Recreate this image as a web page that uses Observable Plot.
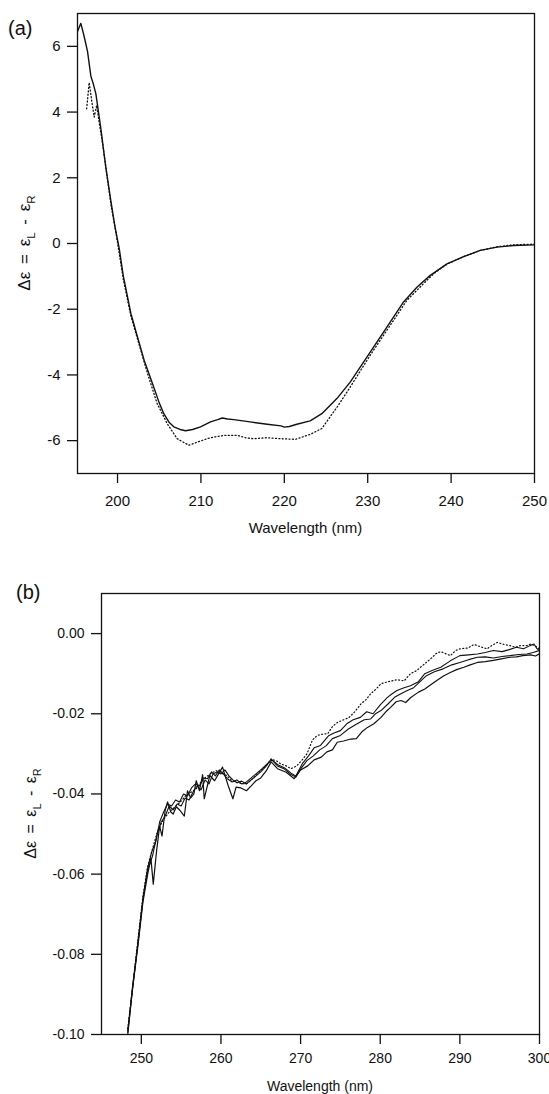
<!DOCTYPE html>
<html><head><meta charset="utf-8">
<script src="https://cdn.jsdelivr.net/npm/d3@7"></script>
<script src="https://cdn.jsdelivr.net/npm/@observablehq/plot@0.6"></script>
<style>
html,body{margin:0;padding:0;background:#fff}
svg{display:block}
</style>
</head><body><div id="chart"></div>
<script>
// ---------- Panel (a): far-UV CD, wavelength (nm) vs Δε ----------
const aSolid = [
[195.2,6.45],[195.6,6.70],[196.0,6.30],[196.4,5.85],[196.8,5.10],[197.1,4.85],[197.4,4.56],[198.0,3.50],[198.6,2.30],[199.2,1.30],[199.7,0.50],[200.2,-0.15],[200.7,-1.00],[201.6,-2.13],[202.4,-2.85],[203.2,-3.56],[204.2,-4.27],[205.0,-4.85],[205.55,-5.18],[206.2,-5.45],[206.75,-5.58],[207.5,-5.66],[208.15,-5.70],[209.0,-5.66],[209.95,-5.58],[211.15,-5.43],[212.0,-5.36],[212.55,-5.31],[213.2,-5.34],[213.95,-5.36],[215.9,-5.43],[217.95,-5.50],[219.6,-5.55],[220.0,-5.59],[220.6,-5.57],[221.5,-5.50],[223.1,-5.40],[224.5,-5.18],[226.3,-4.72],[227.9,-4.22],[229.9,-3.46],[231.9,-2.70],[234.3,-1.78],[235.9,-1.33],[237.5,-0.97],[239.5,-0.62],[241.5,-0.40],[243.5,-0.21],[245.5,-0.11],[247.5,-0.06],[250.0,-0.04]
];
const aDotted = [
[196.3,4.10],[196.6,4.90],[196.9,4.35],[197.2,3.85],[197.5,4.20],[197.8,3.68],[198.2,3.05],[198.7,2.15],[199.2,1.20],[199.8,0.35],[200.7,-1.10],[201.6,-2.20],[202.5,-3.00],[203.6,-3.96],[204.75,-4.87],[205.95,-5.48],[207.15,-5.94],[208.55,-6.14],[209.95,-6.01],[211.15,-5.91],[212.75,-5.84],[214.35,-5.84],[215.5,-5.92],[216.3,-5.94],[217.95,-5.91],[219.55,-5.94],[221.35,-5.96],[223.1,-5.81],[224.5,-5.63],[226.35,-4.97],[227.9,-4.37],[230.3,-3.40],[232.3,-2.64],[234.7,-1.73],[236.7,-1.22],[238.0,-0.90],[239.5,-0.63],[241.5,-0.40],[243.5,-0.21],[245.5,-0.10],[247.5,-0.04],[250.0,-0.02]
];
const aXTicks = [200, 210, 220, 230, 240, 250];
const aYTicks = [-6, -4, -2, 0, 2, 4, 6];

// ---------- Panel (b): near-UV CD ----------
const bSolidA = [
[248.3,-0.1000],[248.9,-0.0885],[249.6,-0.0775],[250.2,-0.0670],[250.8,-0.0600],[251.2,-0.0560],[251.5,-0.0625],[251.9,-0.0545],[252.3,-0.0480],[252.6,-0.0505],[253.0,-0.0440],[253.3,-0.0420],[253.7,-0.0445],[254.0,-0.0450],[254.4,-0.0432],[254.8,-0.0440],[255.4,-0.0455],[255.8,-0.0392],[256.2,-0.0410],[256.6,-0.0400],[256.9,-0.0367],[257.3,-0.0392],[257.7,-0.0352],[257.9,-0.0412],[258.6,-0.0354],[259.2,-0.0367],[259.7,-0.0350],[260.2,-0.0333],[260.6,-0.0360],[260.9,-0.0379],[261.5,-0.0412],[261.9,-0.0383],[262.5,-0.0385],[263.2,-0.0392],[263.8,-0.0380],[264.4,-0.0367],[265.0,-0.0360],[265.7,-0.0342],[266.3,-0.0320],[267.1,-0.0337],[268.2,-0.0346],[269.2,-0.0362],[270.0,-0.0340],[270.9,-0.0330],[271.7,-0.0315],[272.6,-0.0308],[273.3,-0.0295],[274.0,-0.0290],[274.6,-0.0271],[275.4,-0.0268],[276.3,-0.0263],[277.0,-0.0262],[277.7,-0.0245],[278.4,-0.0234],[279.2,-0.0225],[280.1,-0.0209],[280.7,-0.0195],[281.3,-0.0184],[282.0,-0.0170],[282.6,-0.0167],[283.2,-0.0172],[283.8,-0.0160],[284.8,-0.0146],[285.6,-0.0138],[286.3,-0.0128],[287.1,-0.0117],[288.0,-0.0105],[288.8,-0.0097],[289.6,-0.0090],[290.5,-0.0084],[291.3,-0.0078],[292.2,-0.0072],[293.2,-0.0070],[294.2,-0.0067],[295.2,-0.0063],[296.3,-0.0059],[297.1,-0.0058],[297.9,-0.0055],[298.9,-0.0053],[299.5,-0.0056],[300.0,-0.0050]
];
const bSolidB = [
[248.3,-0.0995],[248.9,-0.0880],[249.6,-0.0770],[250.2,-0.0665],[250.8,-0.0590],[251.4,-0.0555],[252.0,-0.0500],[252.5,-0.0470],[253.0,-0.0455],[253.5,-0.0430],[254.0,-0.0440],[254.5,-0.0425],[255.0,-0.0430],[255.5,-0.0410],[256.0,-0.0415],[256.5,-0.0395],[257.0,-0.0380],[257.5,-0.0390],[258.0,-0.0365],[258.5,-0.0375],[259.0,-0.0350],[259.5,-0.0345],[260.0,-0.0350],[260.5,-0.0340],[261.0,-0.0355],[261.5,-0.0365],[262.0,-0.0372],[262.6,-0.0368],[263.2,-0.0375],[263.8,-0.0365],[264.4,-0.0355],[265.0,-0.0345],[265.7,-0.0330],[266.3,-0.0313],[267.1,-0.0330],[267.9,-0.0337],[268.7,-0.0350],[269.4,-0.0358],[270.1,-0.0335],[270.8,-0.0317],[271.6,-0.0305],[272.4,-0.0290],[273.2,-0.0280],[274.0,-0.0262],[275.0,-0.0254],[276.0,-0.0238],[277.1,-0.0225],[278.0,-0.0215],[278.8,-0.0213],[279.4,-0.0200],[280.1,-0.0192],[281.0,-0.0175],[281.8,-0.0159],[282.6,-0.0150],[283.4,-0.0142],[284.2,-0.0135],[285.0,-0.0120],[285.8,-0.0105],[286.8,-0.0095],[287.9,-0.0088],[289.0,-0.0078],[290.0,-0.0072],[291.1,-0.0065],[292.2,-0.0059],[293.2,-0.0058],[294.2,-0.0061],[295.3,-0.0057],[296.3,-0.0055],[297.4,-0.0052],[298.4,-0.0051],[299.2,-0.0047],[300.0,-0.0042]
];
const bSolidC = [
[248.3,-0.0990],[249.0,-0.0870],[249.6,-0.0765],[250.2,-0.0660],[250.8,-0.0585],[251.3,-0.0545],[251.8,-0.0520],[252.3,-0.0470],[252.8,-0.0445],[253.3,-0.0425],[253.8,-0.0430],[254.3,-0.0415],[254.8,-0.0420],[255.3,-0.0400],[255.8,-0.0405],[256.3,-0.0385],[256.8,-0.0375],[257.3,-0.0380],[257.8,-0.0360],[258.3,-0.0362],[258.8,-0.0345],[259.3,-0.0355],[259.8,-0.0340],[260.3,-0.0350],[260.8,-0.0362],[261.4,-0.0370],[262.0,-0.0365],[262.6,-0.0375],[263.2,-0.0370],[263.8,-0.0360],[264.4,-0.0350],[265.1,-0.0338],[265.8,-0.0325],[266.4,-0.0315],[267.2,-0.0328],[268.0,-0.0335],[268.8,-0.0348],[269.4,-0.0355],[270.2,-0.0325],[271.0,-0.0305],[271.7,-0.0285],[272.5,-0.0279],[273.5,-0.0255],[274.2,-0.0248],[275.0,-0.0242],[275.8,-0.0225],[276.6,-0.0215],[277.5,-0.0209],[278.3,-0.0195],[279.1,-0.0200],[280.0,-0.0178],[280.9,-0.0159],[281.5,-0.0150],[282.1,-0.0142],[283.0,-0.0135],[283.8,-0.0130],[284.8,-0.0120],[285.6,-0.0100],[286.5,-0.0092],[287.6,-0.0084],[288.8,-0.0068],[290.0,-0.0055],[291.1,-0.0053],[292.2,-0.0051],[293.2,-0.0047],[294.2,-0.0042],[295.3,-0.0045],[296.2,-0.0040],[297.1,-0.0034],[298.0,-0.0038],[298.8,-0.0030],[299.3,-0.0026],[299.7,-0.0038],[300.0,-0.0042]
];
const bDotted = [
[248.3,-0.0985],[249.0,-0.0865],[249.6,-0.0760],[250.2,-0.0655],[250.8,-0.0580],[251.5,-0.0530],[252.0,-0.0495],[252.7,-0.0466],[253.5,-0.0445],[254.4,-0.0429],[255.0,-0.0418],[255.6,-0.0404],[256.3,-0.0395],[256.9,-0.0387],[257.5,-0.0370],[258.1,-0.0358],[258.8,-0.0348],[259.4,-0.0342],[260.1,-0.0348],[260.7,-0.0354],[261.3,-0.0365],[261.9,-0.0371],[262.6,-0.0374],[263.2,-0.0375],[263.8,-0.0365],[264.4,-0.0354],[265.1,-0.0340],[265.7,-0.0329],[266.3,-0.0313],[267.0,-0.0318],[267.5,-0.0325],[268.2,-0.0330],[268.8,-0.0337],[269.5,-0.0330],[270.2,-0.0315],[270.8,-0.0300],[271.5,-0.0265],[272.1,-0.0254],[273.0,-0.0250],[273.4,-0.0250],[274.0,-0.0232],[274.6,-0.0222],[275.4,-0.0215],[276.1,-0.0209],[276.8,-0.0195],[277.6,-0.0175],[278.2,-0.0165],[278.8,-0.0150],[279.5,-0.0138],[280.1,-0.0125],[281.0,-0.0120],[282.1,-0.0115],[283.0,-0.0118],[283.8,-0.0100],[284.6,-0.0092],[285.3,-0.0080],[285.9,-0.0070],[286.5,-0.0060],[287.0,-0.0050],[287.6,-0.0045],[288.2,-0.0050],[288.8,-0.0055],[289.5,-0.0042],[290.0,-0.0038],[291.0,-0.0036],[291.8,-0.0027],[292.6,-0.0033],[293.4,-0.0038],[294.0,-0.0030],[294.7,-0.0022],[295.5,-0.0027],[296.3,-0.0030],[297.0,-0.0034],[297.6,-0.0030],[298.4,-0.0030],[298.9,-0.0026],[299.4,-0.0030],[300.0,-0.0038]
];
const bXTicks = [250, 260, 270, 280, 290, 300];
const bYTicks = [-0.10, -0.08, -0.06, -0.04, -0.02, 0.00];

const xLabel = "Wavelength (nm)";
const FONT = "'Liberation Sans', Arial, Helvetica, sans-serif";
const INK = "#111";

function panel(cfg) {
  const lineMarks = cfg.series.map(s =>
    Plot.line(s.data, {x: d => d[0], y: d => d[1], stroke: INK,
      strokeWidth: s.width, strokeDasharray: s.dash, curve: "linear", clip: true}));
  const svg = Plot.plot({
    width: 549, height: cfg.height,
    marginTop: cfg.mt, marginBottom: cfg.mb, marginLeft: cfg.ml, marginRight: cfg.mr,
    x: {domain: cfg.xDomain, ticks: cfg.xTicks},
    y: {domain: cfg.yDomain, ticks: cfg.yTicks},
    style: {fontFamily: FONT, fontSize: cfg.fs + "px", color: INK, background: "white", overflow: "visible"},
    marks: [
      ...lineMarks,
      Plot.frame({stroke: INK, strokeWidth: 1.3}),
      Plot.axisX(cfg.xTicks, {tickSize: 10, tickPadding: cfg.tpx, label: null,
        tickFormat: d => String(d), fontSize: cfg.fs, strokeWidth: 1.3}),
      Plot.axisY(cfg.yTicks, {tickSize: 10, tickPadding: 7, label: null,
        tickFormat: cfg.yFmt, fontSize: cfg.fs, strokeWidth: 1.3})
    ]
  });
  const s = d3.select(svg);
  s.selectAll('g[aria-label$="tick label"]').attr("font-size", cfg.fs);
  // panel letter
  s.append("text").attr("x", cfg.letterX).attr("y", cfg.letterY).attr("text-anchor", "start")
    .attr("font-size", 20).attr("fill", INK).attr("font-family", FONT).text(cfg.letter);
  // x axis title
  const cx = cfg.ml + (549 - cfg.ml - cfg.mr) / 2;
  s.append("text").attr("x", cx).attr("y", cfg.xLabelY).attr("text-anchor", "middle")
    .attr("font-size", cfg.fs).attr("fill", INK).attr("font-family", FONT).text(xLabel);
  // y axis title with subscripts
  const cy = cfg.mt + (cfg.height - cfg.mt - cfg.mb) / 2;
  const yfs = cfg.yfs;
  const sub = yfs * 0.68, shift = yfs * 0.3;
  const t = s.append("text")
    .attr("transform", `translate(${cfg.yLabelX},${cy}) rotate(-90)`)
    .attr("text-anchor", "middle").attr("font-size", yfs).attr("fill", INK)
    .attr("font-family", FONT).attr("word-spacing", 3);
  t.append("tspan").text("Δε = ε");
  t.append("tspan").attr("font-size", sub).attr("dy", shift).text("L");
  t.append("tspan").attr("dy", -shift).text(" - ε");
  t.append("tspan").attr("font-size", sub).attr("dy", shift).text("R");
  return svg;
}

const chart = document.getElementById("chart");
chart.appendChild(panel({
  height: 545, mt: 13, mb: 72, ml: 77, mr: 15, fs: 15, yfs: 17, tpx: 12,
  xDomain: [195.2, 250], yDomain: [-7, 7], xTicks: aXTicks, yTicks: aYTicks,
  yFmt: d => d.toFixed(0),
  letter: "(a)", letterX: 8, letterY: 35, xLabelY: 533, yLabelX: 30,
  series: [
    {data: aDotted, width: 1.3, dash: "1,2.4"},
    {data: aSolid, width: 1.4, dash: null}
  ]
}));
chart.appendChild(panel({
  height: 549, mt: 48, mb: 60, ml: 101, mr: 10, fs: 14, yfs: 16, tpx: 9,
  xDomain: [245, 300], yDomain: [-0.10, 0.01], xTicks: bXTicks, yTicks: bYTicks,
  yFmt: d => (Math.abs(d) < 1e-9 ? 0 : d).toFixed(2),
  letter: "(b)", letterX: 16, letterY: 54, xLabelY: 546, yLabelX: 36,
  series: [
    {data: bDotted, width: 1.2, dash: "1,2.4"},
    {data: bSolidC, width: 1.1, dash: null},
    {data: bSolidB, width: 1.1, dash: null},
    {data: bSolidA, width: 1.2, dash: null}
  ]
}));
</script></body></html>
